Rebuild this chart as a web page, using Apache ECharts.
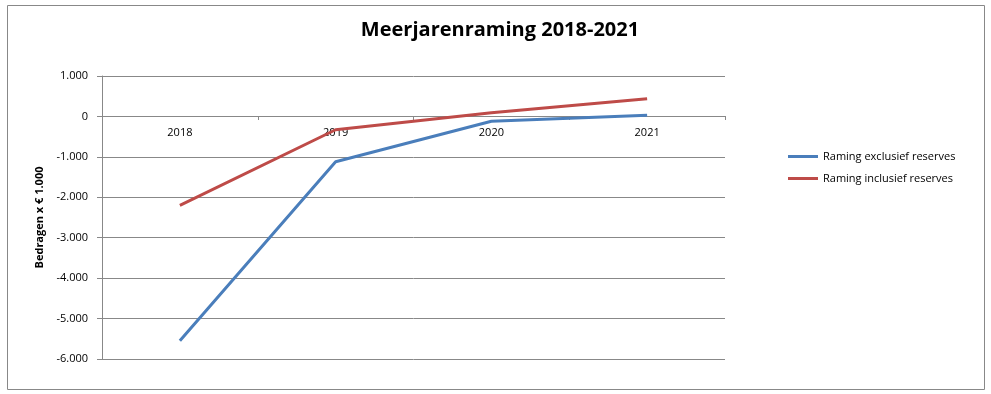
<!DOCTYPE html>
<html><head><meta charset="utf-8">
<script src="https://cdn.jsdelivr.net/npm/echarts@6/dist/echarts.min.js"></script>
<style>html,body{margin:0;padding:0;background:#fff}#c{width:991px;height:394px}</style>
</head><body><div id="c"></div>
<script>
var categories = ['2018', '2019', '2020', '2021'];
var seriesNames = ['Raming exclusief reserves', 'Raming inclusief reserves'];
var exclusief = [-5550, -1120, -120, 30];
var inclusief = [-2200, -330, 90, 440];
var titleText = 'Meerjarenraming 2018-2021';
var yAxisName = 'Bedragen x € 1.000';

function fmt(v) {
  var s = Math.abs(v).toString().replace(/\B(?=(\d{3})+(?!\d))/g, '.');
  return (v < 0 ? '-' : '') + s;
}
var chart = echarts.init(document.getElementById('c'));
chart.setOption({
  animation: false,
  title: { text: titleText, left: 495, top: 15, textAlign: 'center',
    textStyle: { fontFamily: 'Open Sans', fontWeight: 'bold', fontSize: 20, color: '#000' } },
  graphic: [{ type: 'rect', shape: { x: 7.5, y: 5.5, width: 977, height: 384 },
    style: { fill: 'none', stroke: '#888', lineWidth: 1 } }],
  legend: { orient: 'vertical', left: 783, top: 146, itemWidth: 30, itemHeight: 3, itemGap: 11,
    icon: 'rect', textStyle: { fontFamily: 'Open Sans', fontSize: 11, color: '#000' },
    data: seriesNames },
  grid: { left: 102, right: 266, top: 76, bottom: 35 },
  xAxis: { type: 'category', data: categories, boundaryGap: true, position: 'bottom', offset: -243,
    axisLine: { onZero: false, lineStyle: { color: '#888' } },
    axisTick: { show: true, length: 4, lineStyle: { color: '#888' } },
    axisLabel: { margin: 11, fontFamily: 'Open Sans', fontSize: 11, color: '#000' } },
  yAxis: { type: 'value', min: -6000, max: 1000, interval: 1000,
    name: yAxisName, nameLocation: 'middle', nameGap: 42, nameRotate: 90,
    nameTextStyle: { fontFamily: 'Open Sans', fontWeight: 'bold', fontSize: 11, color: '#000' },
    axisLine: { show: true, lineStyle: { color: '#888' } },
    axisTick: { show: true, length: 5, lineStyle: { color: '#888' } },
    axisLabel: { margin: 14, formatter: fmt, fontFamily: 'Open Sans', fontSize: 11, color: '#000' },
    splitLine: { lineStyle: { color: '#888' } } },
  series: [
    { name: seriesNames[0], type: 'line', data: exclusief, symbol: 'none',
      lineStyle: { width: 3, color: '#4A7EBB' }, itemStyle: { color: '#4A7EBB' } },
    { name: seriesNames[1], type: 'line', data: inclusief, symbol: 'none',
      lineStyle: { width: 3, color: '#BE4B48' }, itemStyle: { color: '#BE4B48' } }
  ]
});
</script></body></html>
